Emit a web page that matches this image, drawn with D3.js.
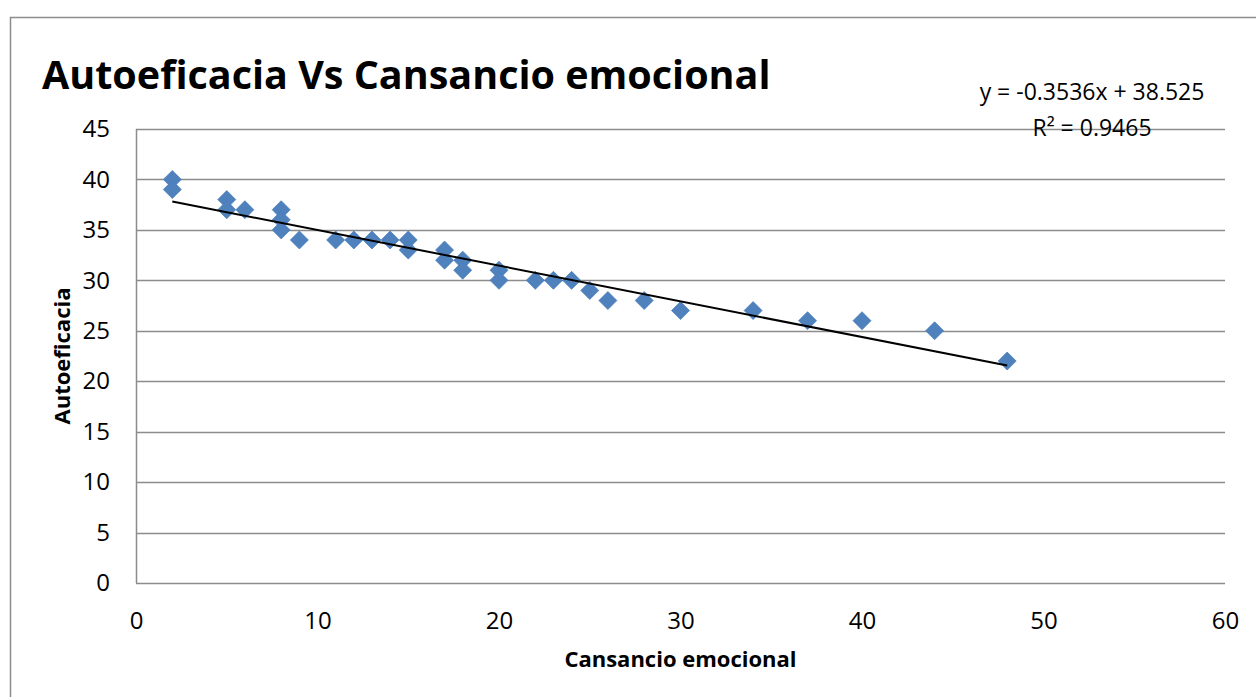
<!DOCTYPE html>
<html>
<head>
<meta charset="utf-8">
<script src="https://cdn.jsdelivr.net/npm/d3@7"></script>
<style>
  body { margin: 0; background: #fff; }
  svg text { font-family: "Open Sans", sans-serif; fill: #000; }
</style>
</head>
<body>
<div id="chart"></div>
<script>
// data
const cansancio = [2, 2, 5, 5, 6, 8, 8, 8, 9, 11, 12, 13, 14, 15, 15, 17, 17, 18, 18, 20, 20, 22, 23, 24, 25, 26, 28, 30, 34, 37, 40, 44, 48];
const autoeficacia = [40, 39, 38, 37, 37, 37, 36, 35, 34, 34, 34, 34, 34, 34, 33, 33, 32, 32, 31, 31, 30, 30, 30, 30, 29, 28, 28, 27, 27, 26, 26, 25, 22];
const xTicks = [0, 10, 20, 30, 40, 50, 60];
const yTicks = [0, 5, 10, 15, 20, 25, 30, 35, 40, 45];
const slope = -0.3536;
const intercept = 38.525;
const rSquared = 0.9465;

const W = 1256, H = 697;
const margin = {top: 129, right: 31, bottom: 114, left: 136};
const width = W - margin.left - margin.right;
const height = H - margin.top - margin.bottom;

const svgRoot = d3.select('#chart').append('svg')
  .attr('width', W)
  .attr('height', H);

// outer chart frame (only left and top edges are visible)
svgRoot.append('path')
  .attr('d', `M10.5,${H} V17.5 H${W}`)
  .attr('fill', 'none')
  .attr('stroke', '#8c8c8c')
  .attr('stroke-width', 1.5);

svgRoot.append('text')
  .attr('x', 42)
  .attr('y', 89)
  .style('font-size', '39.5px')
  .style('font-weight', 700)
  .text('Autoeficacia Vs Cansancio emocional');

const svg = svgRoot.append('g')
  .attr('transform', `translate(${margin.left}, ${margin.top})`);

const x = d3.scaleLinear().domain([0, 60]).range([0, width]);
const y = d3.scaleLinear().domain([0, 45]).range([height, 0]);

// gridlines
svg.append('g')
  .selectAll('line')
  .data(yTicks)
  .join('line')
  .attr('x1', 0)
  .attr('x2', width)
  .attr('y1', d => Math.round(y(d)) + 0.5)
  .attr('y2', d => Math.round(y(d)) + 0.5)
  .attr('stroke', '#8c8c8c')
  .attr('stroke-width', 1.5);

const xAxis = d3.axisBottom(x).tickValues(xTicks).tickSize(0).tickPadding(29);
const yAxis = d3.axisLeft(y).tickValues(yTicks).tickSize(0).tickPadding(26);

const gx = svg.append('g')
  .attr('transform', `translate(0, ${height})`)
  .call(xAxis);
const gy = svg.append('g')
  .call(yAxis);

[gx, gy].forEach(g => {
  g.selectAll('text').style('font-size', '24px').style('font-family', '"Open Sans", sans-serif');
});
gx.select('.domain').remove();
gy.select('.domain')
  .attr('d', `M0.5,0V${height}`)
  .attr('stroke', '#8c8c8c')
  .attr('stroke-width', 1.5);

// axis titles
svg.append('text')
  .attr('x', width / 2)
  .attr('y', height + 84)
  .attr('text-anchor', 'middle')
  .style('font-size', '22px')
  .style('font-weight', 700)
  .text('Cansancio emocional');

svg.append('text')
  .attr('transform', `translate(${62 - margin.left}, ${height / 2}) rotate(-90)`)
  .attr('text-anchor', 'middle')
  .attr('dy', '0.35em')
  .style('font-size', '22px')
  .style('font-weight', 700)
  .text('Autoeficacia');

// points
const points = cansancio.map((c, i) => [c, autoeficacia[i]]);
svg.append('g')
  .selectAll('path')
  .data(points)
  .join('path')
  .attr('d', 'M0,-9L9,0L0,9L-9,0Z')
  .attr('transform', d => `translate(${x(d[0])}, ${y(d[1])})`)
  .attr('fill', '#4f81bd')
  .attr('stroke', '#4a7ebb')
  .attr('stroke-width', 0.75);

// linear trend line
const xMin = d3.min(cansancio), xMax = d3.max(cansancio);
svg.append('line')
  .attr('x1', x(xMin))
  .attr('y1', y(slope * xMin + intercept))
  .attr('x2', x(xMax))
  .attr('y2', y(slope * xMax + intercept))
  .attr('stroke', '#000')
  .attr('stroke-width', 2);

// trendline label
const eq = svgRoot.append('g').attr('transform', 'translate(1092, 0)');
eq.append('text')
  .attr('y', 100)
  .attr('text-anchor', 'middle')
  .style('font-size', '23px')
  .text(`y = ${slope}x + ${intercept}`);
eq.append('text')
  .attr('y', 136)
  .attr('text-anchor', 'middle')
  .style('font-size', '23px')
  .text(`R² = ${rSquared}`);
</script>
</body>
</html>
